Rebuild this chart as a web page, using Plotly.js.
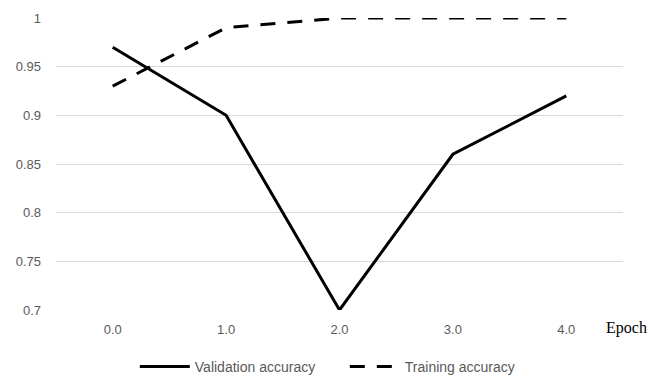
<!DOCTYPE html>
<html><head><meta charset="utf-8">
<script src="https://cdn.plot.ly/plotly-3.0.1.min.js"></script>
<style>html,body{margin:0;padding:0;background:#fff}#c{width:649px;height:376px}</style>
</head><body><div id="c"></div>
<script>
const epochs = ["0.0", "1.0", "2.0", "3.0", "4.0"];
const validationAcc = [0.97, 0.90, 0.70, 0.86, 0.92];
const trainingAcc = [0.93, 0.99, 1.0, 1.0, 1.0];

const traces = [
  {x: epochs, y: validationAcc, type: 'scatter', mode: 'lines', name: 'Validation accuracy',
   line: {color: '#000', width: 3}},
  {x: epochs, y: trainingAcc, type: 'scatter', mode: 'lines', name: 'Training accuracy',
   line: {color: '#000', width: 3, dash: '15px,12px'}}
];
const layout = {
  width: 649, height: 376,
  margin: {l: 56, r: 26, t: 18, b: 66, autoexpand: false},
  paper_bgcolor: '#fff', plot_bgcolor: '#fff',
  font: {family: 'Liberation Sans Narrow, Arial Narrow, Liberation Sans, Arial', color: '#595959', size: 13},
  xaxis: {type: 'category', range: [-0.5, 4.5], showgrid: false, zeroline: false, showline: false,
          ticks: '', ticklabelstandoff: 10, tickfont: {size: 13, color: '#595959'}, fixedrange: true},
  yaxis: {range: [0.7, 1.0], dtick: 0.05, tick0: 0.7, showgrid: true, gridcolor: '#d9d9d9', gridwidth: 1,
          zeroline: false, showline: false, ticks: '', ticklabelstandoff: 14,
          tickfont: {size: 13, color: '#595959'}, fixedrange: true},
  showlegend: true,
  legend: {orientation: 'h', x: 0.139, xanchor: 'left', y: -0.195, yanchor: 'middle',
           font: {size: 14, color: '#595959'}, itemwidth: 50, entrywidth: 145, tracegroupgap: 0},
  annotations: [{text: 'Epoch', xref: 'paper', yref: 'paper', x: 1.045, y: -0.062, xanchor: 'right', yanchor: 'middle',
                 showarrow: false, font: {family: 'Liberation Serif, Times New Roman, serif', size: 16, color: '#000'}}]
};
Plotly.newPlot('c', traces, layout, {displayModeBar: false, staticPlot: true});
</script></body></html>
